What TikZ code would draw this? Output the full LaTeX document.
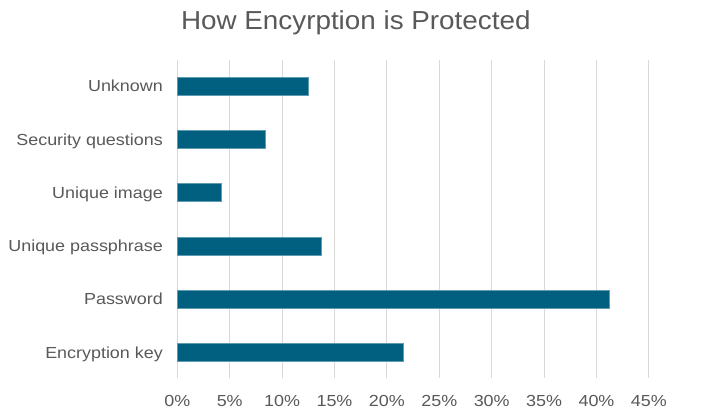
\documentclass[tikz,border=0pt]{standalone}
\usepackage{fontspec}
\setmainfont{Liberation Sans}
\newfontfamily\lblfont[FakeStretch=1.12]{Liberation Sans}
\newfontfamily\ttlfont[FakeStretch=1.07]{Liberation Sans}
\definecolor{txtgray}{HTML}{595959}
\definecolor{gridgray}{HTML}{D9D9D9}
\definecolor{barblue}{HTML}{01607F}
\definecolor{baredge}{HTML}{5E9BB0}
\begin{document}
\begin{tikzpicture}[x=1pt,y=-1pt,
  gridline/.style={draw=gridgray,line width=1pt},
  barbox/.style={fill=barblue,draw=baredge,line width=0.5pt},
  catlabel/.style={anchor=base east,inner sep=0pt,text=txtgray,font=\lblfont\fontsize{16}{19}\selectfont},
  ticklabel/.style={anchor=base,inner sep=0pt,text=txtgray,font=\lblfont\fontsize{16}{19}\selectfont},
  titlelabel/.style={anchor=base,inner sep=0pt,text=txtgray,font=\ttlfont\fontsize{26}{30}\selectfont}]
\useasboundingbox[fill=white] (0,0) rectangle (713,413);
% title
\node[titlelabel] (title) at (355.8,29.3) {How Encyrption is Protected};
% gridlines and tick labels
\foreach \p [count=\i] in {0,5,...,45}{
  \coordinate (gt\i) at ({177.3+10.48*\p},60);
  \coordinate (gb\i) at ({177.3+10.48*\p},378);
  \draw[gridline] (gt\i) -- (gb\i);
  \node[ticklabel] (tick\i) at ({177.3+10.48*\p},406.8) {\p\%};
}
% bars
\foreach \v/\name [count=\i] in {12.5/Unknown,8.4/Security questions,4.2/Unique image,13.7/Unique passphrase,41.2/Password,21.6/Encryption key}{
  \pgfmathsetmacro{\yc}{86+53.3*(\i-1)}
  \draw[barbox] (177.3,\yc-9) rectangle ({177.3+10.48*\v},\yc+9);
  \node[catlabel] (cat\i) at (163,\yc+5.7) {\name};
}
\end{tikzpicture}
\end{document}
